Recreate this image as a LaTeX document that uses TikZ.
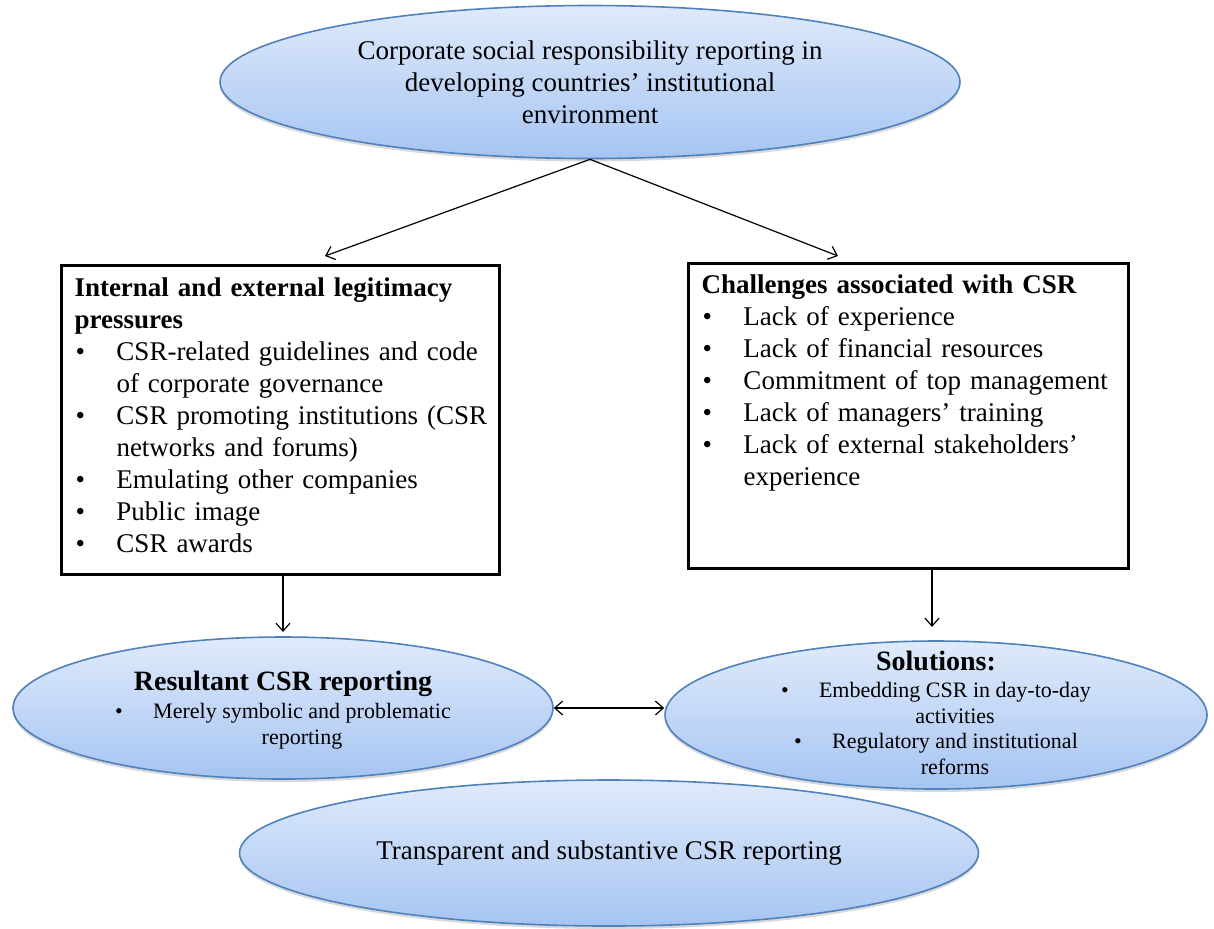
\documentclass[tikz,border=0pt]{standalone}
\usepackage{fontspec}
\setmainfont{Liberation Serif}
\usetikzlibrary{arrows.meta,shapes.geometric,shadows,calc}

\definecolor{ovalline}{HTML}{4F81BD}
\definecolor{ovaltop}{HTML}{DFEAFB}
\definecolor{ovalbottom}{HTML}{A6C4F2}

% bullet lines inside the rectangular boxes
\newcommand{\boxitem}[1]{\mbox{\makebox[21pt][l]{\hspace{0.5pt}\textbullet}#1}}
\newcommand{\boxcont}[1]{\mbox{\hspace*{21pt}#1}}
% bullet lines inside the ovals (centred, hanging indent)
\newcommand{\ovalitem}[1]{\makebox[19pt][l]{\textbullet}#1}
\newcommand{\ovalcont}[1]{\hspace*{19pt}#1}

\begin{document}
\begin{tikzpicture}[x=0.5pt,y=-0.5pt,
  oval/.style={ellipse, draw=ovalline, line width=0.8pt,
    top color=ovaltop, bottom color=ovalbottom, inner sep=0pt,
    drop shadow={opacity=0.25, fill=black!60, shadow xshift=0pt, shadow yshift=-1.5pt}},
  maintext/.style={font=\fontsize{13.5}{16}\selectfont, align=center, inner sep=0pt},
  smalltext/.style={font=\fontsize{11}{12.8}\selectfont, align=center, inner sep=0pt},
  listbox/.style={rectangle, draw=black, line width=1.5pt, anchor=north west,
    align=left, inner xsep=6.75pt, text height=10pt,
    font=\fontsize{13.5}{16}\selectfont},
  arr/.style={-{Straight Barb[length=4pt,width=7pt]}, line width=0.6pt},
  dblarr/.style={{Straight Barb[length=4pt,width=7pt]}-{Straight Barb[length=4pt,width=7pt]}, line width=0.6pt}
]
\useasboundingbox (0,0) rectangle (1214,928);

% top oval
\node[oval, minimum width=370pt, minimum height=76.5pt] (top) at (590,82) {};
\node[maintext] (toptext) at (590,82)
  {Corporate social responsibility reporting in\\
   developing countries’ institutional\\
   environment};

% two list boxes
\node[listbox, text width=205.5pt, inner ysep=5.75pt, text depth=133pt] (pressures) at (59.5,263.5)
  {\textbf{Internal and external legitimacy}\\
   \textbf{pressures}\\
   \boxitem{CSR-related guidelines and code}\\
   \boxcont{of corporate governance}\\
   \boxitem{CSR promoting institutions (CSR}\\
   \boxcont{networks and forums)}\\
   \boxitem{Emulating other companies}\\
   \boxitem{Public image}\\
   \boxitem{CSR awards}};

\node[listbox, text width=206.5pt, inner ysep=5.25pt, text depth=132pt] (challenges) at (686.5,261.5)
  {\textbf{Challenges associated with CSR}\\
   \boxitem{Lack of experience}\\
   \boxitem{Lack of financial resources}\\
   \boxitem{Commitment of top management}\\
   \boxitem{Lack of managers’ training}\\
   \boxitem{Lack of external stakeholders’}\\
   \boxcont{experience}};

% lower ovals
\node[oval, minimum width=270pt, minimum height=71pt] (resultant) at (283,708) {};
\node[smalltext] (resultanttext) at (283,710)
  {{\fontsize{14}{16}\selectfont\bfseries Resultant CSR reporting}\\[1.5pt]
   \ovalitem{Merely symbolic and problematic}\\
   \ovalcont{reporting}};

\node[oval, minimum width=271pt, minimum height=74pt] (solutions) at (936,715) {};
\node[smalltext] (solutionstext) at (936,713)
  {{\fontsize{14}{16}\selectfont\bfseries Solutions:}\\[0.5pt]
   \ovalitem{Embedding CSR in day-to-day}\\
   \ovalcont{activities}\\
   \ovalitem{Regulatory and institutional}\\
   \ovalcont{reforms}};

\node[oval, minimum width=369.5pt, minimum height=73pt] (transparent) at (609,853) {};
\node[maintext] (transparenttext) at (609,853)
  {Transparent and substantive CSR reporting};

% arrow end points
\coordinate (tipL) at (325,256);
\coordinate (tipR) at (838,256);
\coordinate (startL) at (283,574.5);
\coordinate (endL) at (283,632);
\coordinate (startR) at (932,569);
\coordinate (endR) at (932,627);

% connectors
\draw[arr] (top.south) -- (tipL);
\draw[arr] (top.south) -- (tipR);
\draw[arr] (startL) -- (endL);
\draw[arr] (startR) -- (endR);
\draw[dblarr] (resultant.east) -- (solutions.west |- resultant.east);
\end{tikzpicture}
\end{document}
